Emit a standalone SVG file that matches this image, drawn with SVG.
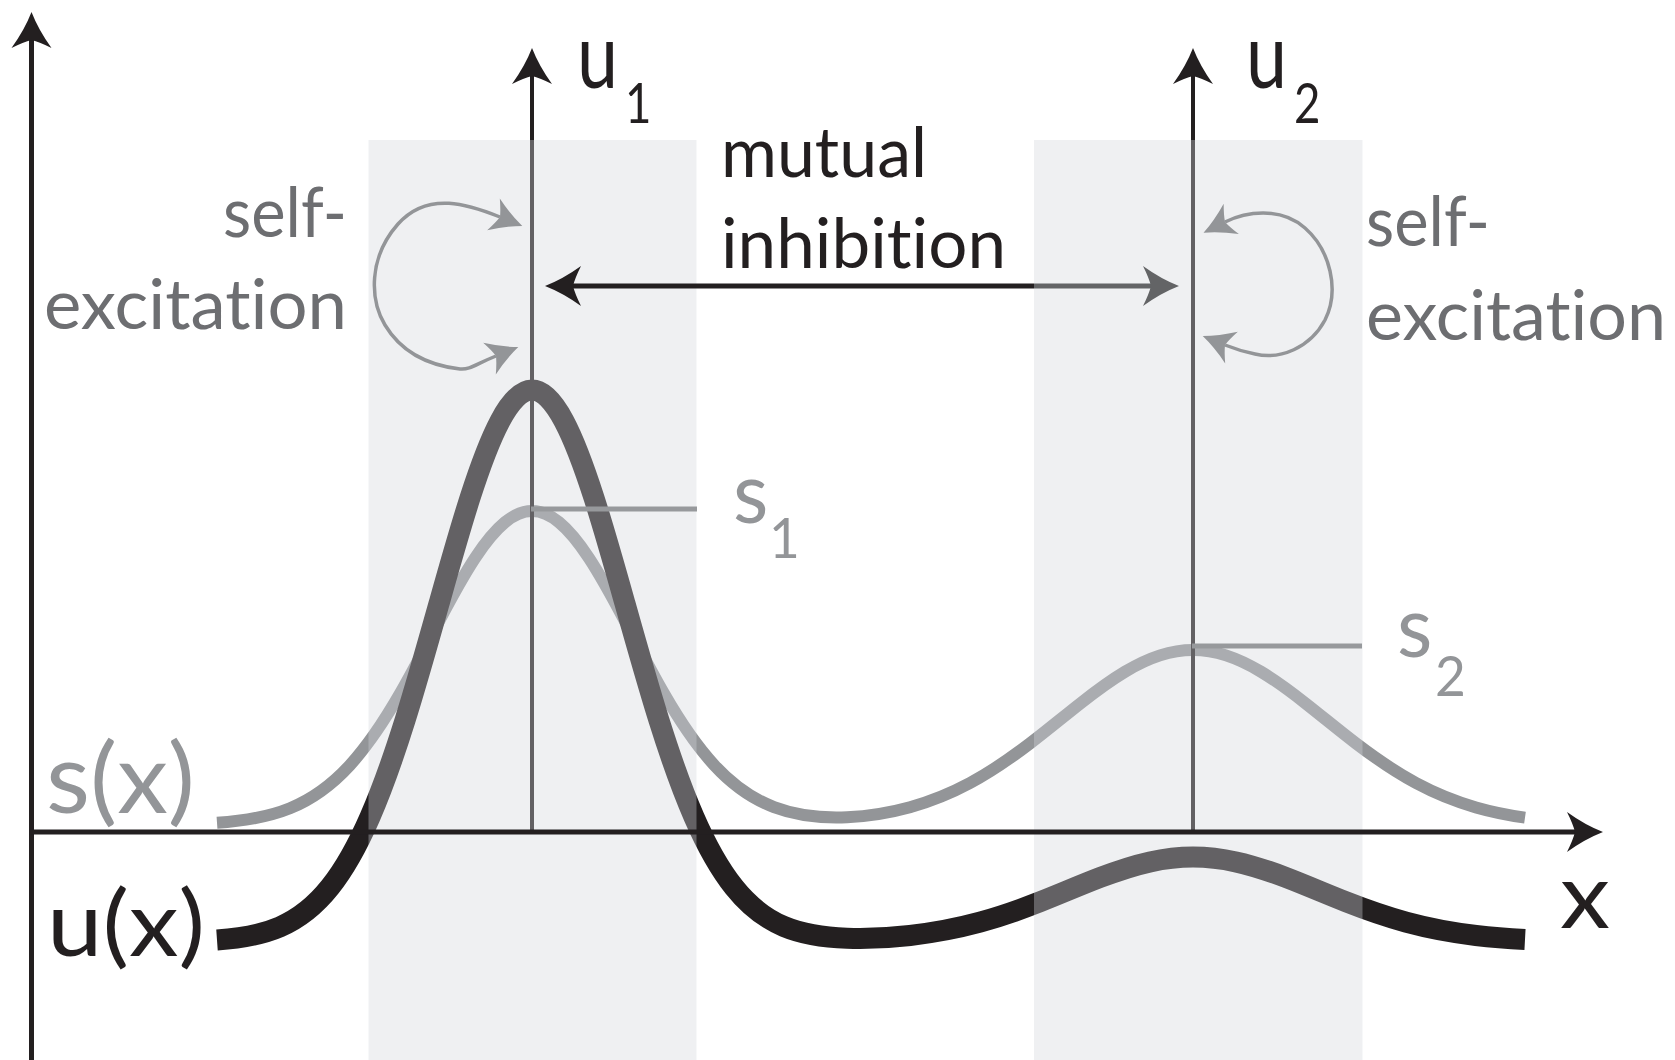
<svg xmlns="http://www.w3.org/2000/svg" width="1675" height="1060" viewBox="0 0 1675 1060">
<style>
text { font-family: Lato, "Open Sans", "Liberation Sans", sans-serif; font-variant-ligatures: none; font-feature-settings: "liga" 0, "clig" 0, "dlig" 0; }
.dark { fill:#231f20; }
.mid { fill:#6d6e71; }
.light { fill:#939598; }
.axis { stroke:#231f20; stroke-width:5; fill:none; }
.vline { stroke:#231f20; stroke-width:4; fill:none; }
.band { fill:#d3d6db; fill-opacity:0.364; }
.ucurve { stroke:#231f20; stroke-width:21; fill:none; }
.scurve { stroke:#939598; stroke-width:12; fill:none; }
.sline { stroke:#97999c; stroke-width:5; fill:none; }
.selfex { stroke:#939598; stroke-width:3.5; fill:none; }
.arrB { stroke:#231f20; stroke-width:5; fill:none; }
.arrG { stroke:#636466; stroke-width:5; fill:none; }
</style>
<defs>
<marker id="ahB" viewBox="-37 -21 38 42" refX="-28" refY="0" markerWidth="38" markerHeight="42" markerUnits="userSpaceOnUse" orient="auto-start-reverse">
<path d="M0,0 Q-18,-7 -36,-20 Q-30,-8 -28,0 Q-30,8 -36,20 Q-18,7 0,0 Z" fill="#231f20"/>
</marker>
<marker id="ahG" viewBox="-37 -21 38 42" refX="-28" refY="0" markerWidth="38" markerHeight="42" markerUnits="userSpaceOnUse" orient="auto-start-reverse">
<path d="M0,0 Q-18,-7 -36,-20 Q-30,-8 -28,0 Q-30,8 -36,20 Q-18,7 0,0 Z" fill="#636466"/>
</marker>
<marker id="ahS" viewBox="-32 -18 33 36" refX="-24" refY="0" markerWidth="33" markerHeight="36" markerUnits="userSpaceOnUse" orient="auto-start-reverse">
<path d="M0,0 Q-15,-6 -31,-17 Q-26,-7 -24,0 Q-26,7 -31,17 Q-15,6 0,0 Z" fill="#939598"/>
</marker>
</defs>
<rect x="0" y="0" width="1675" height="1060" fill="#ffffff"/>

<g id="curve-s">
<path class="scurve" d="M217,822.8 C241.33,821.11 265.67,818.09 290,808.2 C310,800.07 330,786.88 350,765.07 C366.67,746.89 383.33,722.52 400,693.61 C413.33,670.49 426.67,644.57 440,619.34 C451.67,597.26 463.33,575.83 475,558.08 C485,542.87 495,530.42 505,522.24 C514,514.88 523,511 532,511 C541,511 550,514.88 559,522.24 C569,530.42 579,542.87 589,558.08 C600.67,575.83 612.33,597.26 624,619.34 C637.33,644.57 650.67,670.49 664,693.61 C680.67,722.52 697.33,746.89 714,764.83 C734,786.64 754,799.48 774,807.07 C798.33,816.3 822.67,818.2 847,817.16 C868,816.26 889,812.98 910,807.18 C930,801.66 950,793.75 970,783 C990,772.25 1010,758.63 1030,743.36 C1046.67,730.63 1063.33,716.8 1080,703.69 C1095,691.89 1110,680.72 1125,671.75 C1136.67,664.77 1148.33,659.13 1160,655.38 C1171,651.85 1182,650 1193,650 C1204,650 1215,651.85 1226,655.38 C1237.67,659.13 1249.33,664.77 1261,671.75 C1276,680.72 1291,691.89 1306,703.69 C1322.67,716.8 1339.33,730.63 1356,743.36 C1376,758.63 1396,772.25 1416,783 C1436,793.75 1456,801.66 1476,807.43 C1492.33,812.09 1508.67,815.3 1525,817.6"/>
</g>
<g id="curve-u">
<path class="ucurve" d="M217,940 C238,938.5 259,935.9 280,926.8 C296.67,919.58 313.33,908.05 330,887.15 C343.33,870.43 356.67,847.54 370,816.98 C381.67,790.24 393.33,757.56 405,720.4 C416.67,683.24 428.33,641.6 440,600.06 C450,564.46 460,529.06 470,497.9 C480,466.74 490,439.94 500,421.07 C510.67,400.94 521.33,390 532,390 C542.67,390 553.33,400.94 564,421.07 C574,439.94 584,466.74 594,497.9 C604,529.06 614,564.46 624,600.06 C635.67,641.6 647.33,683.24 659,720.4 C670.67,757.56 682.33,790.24 694,816.98 C707.33,847.54 720.67,870.43 734,887.15 C750.67,908.05 767.33,919.5 784,926.5 C805,935.3 826,937.55 847,938.2 C868,938.85 889,937.94 910,935.45 C933.33,932.68 956.67,928.43 980,922.1 C1000,916.67 1020,909.67 1040,901.8 C1060,893.93 1080,885.22 1100,877.55 C1116.67,871.16 1133.33,865.56 1150,861.88 C1164.33,858.72 1178.67,857 1193,857 C1207.33,857 1221.67,858.72 1236,861.88 C1252.67,865.56 1269.33,871.16 1286,877.55 C1306,885.22 1326,893.93 1346,901.8 C1366,909.67 1386,916.67 1406,922.1 C1429.33,928.43 1452.67,932.68 1476,935.45 C1492.33,937.39 1508.67,938.63 1525,939.5"/>
</g>
<g id="axis-u1">
<path class="vline" d="M532,832 V76" marker-end="url(#ahB)"/>
</g>
<g id="axis-u2">
<path class="vline" d="M1193,832 V76" marker-end="url(#ahB)"/>
</g>
<g id="band1"><rect class="band" x="368.5" y="140" width="328" height="920"/></g>
<g id="band2"><rect class="band" x="1034" y="140" width="328.5" height="920"/></g>
<g id="s-markers">
<path class="sline" d="M531,509 H697"/>
<path class="sline" d="M1192,646 H1362"/>
</g>
<g id="axes">
<path class="axis" d="M31.5,1060 V40" marker-end="url(#ahB)"/>
<path class="axis" d="M29,832 H1575" marker-end="url(#ahB)"/>
</g>
<g id="connectors">
<path class="arrB" d="M1034,286 H573" marker-end="url(#ahB)"/>
<path class="arrG" d="M1034,286 H1151" marker-end="url(#ahG)"/>
<path class="selfex" d="M500,217 C470,205 428,190 398,224 C368,258 370,300 385,325 C400,350 425,365 460,369 C470,370 476,364 496,356" marker-start="url(#ahS)" marker-end="url(#ahS)"/>
<path class="selfex" d="M1225,222 C1245,212 1280,206 1305,228 C1330,250 1340,290 1325,320 C1310,348 1280,360 1255,354 C1245,352 1235,349 1225,345" marker-start="url(#ahS)" marker-end="url(#ahS)"/>
</g>
<g id="labels">
<text class="mid" x="347" y="237" text-anchor="end" font-size="70" textLength="124" lengthAdjust="spacingAndGlyphs">self-</text>
<text class="mid" x="347" y="329" text-anchor="end" font-size="70" textLength="303" lengthAdjust="spacingAndGlyphs">excitation</text>
<text class="mid" x="1366" y="246" font-size="70" textLength="124" lengthAdjust="spacingAndGlyphs">self-</text>
<text class="mid" x="1366" y="340" font-size="70" textLength="300" lengthAdjust="spacingAndGlyphs">excitation</text>
<text class="dark" x="721" y="177" font-size="70" textLength="206" lengthAdjust="spacingAndGlyphs">mutual</text>
<text class="dark" x="721" y="268" font-size="70" textLength="285" lengthAdjust="spacingAndGlyphs">inhibition</text>
<text class="dark" font-size="92" transform="translate(577 88) scale(0.8 1)"><tspan x="0" y="0">u</tspan><tspan x="60" y="35" font-size="57">1</tspan></text>
<text class="dark" font-size="92" transform="translate(1246 88) scale(0.8 1)"><tspan x="0" y="0">u</tspan><tspan x="60" y="35" font-size="57">2</tspan></text>
<text class="light" font-size="86" transform="translate(733 523) scale(0.95 1)"><tspan x="0" y="0">s</tspan><tspan x="38" y="35" font-size="56">1</tspan></text>
<text class="light" font-size="86" transform="translate(1397 657) scale(0.95 1)"><tspan x="0" y="0">s</tspan><tspan x="40" y="39" font-size="56">2</tspan></text>
<text class="light" x="46" y="813" font-size="96" textLength="149" lengthAdjust="spacingAndGlyphs">s(x)</text>
<text class="dark" x="47" y="956" font-size="92" textLength="158" lengthAdjust="spacingAndGlyphs">u(x)</text>
<text class="dark" x="1560" y="928" font-size="92" textLength="50" lengthAdjust="spacingAndGlyphs">x</text>
</g>
</svg>
